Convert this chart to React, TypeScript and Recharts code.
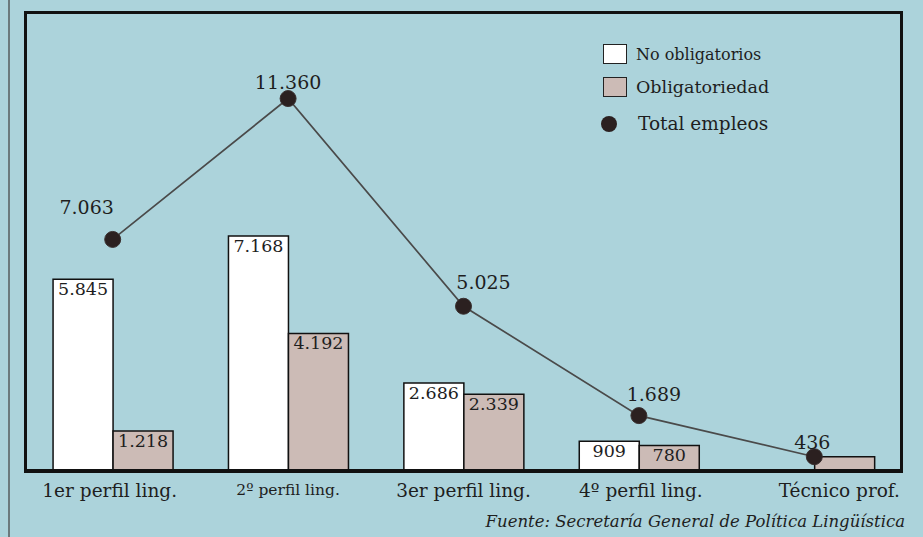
import React from 'react';
import { ComposedChart, Bar, Line, XAxis, YAxis, LabelList } from 'recharts';

const categories = ['1er perfil ling.', '2º perfil ling.', '3er perfil ling.', '4º perfil ling.', 'Técnico prof.'];
const noObligatorios = [5845, 7168, 2686, 909, null];
const obligatoriedad = [1218, 4192, 2339, 780, 436];
const totalEmpleos = [7063, 11360, 5025, 1689, 436];

const data = categories.map((name, i) => ({
  name,
  noObl: noObligatorios[i],
  obl: obligatoriedad[i],
  total: totalEmpleos[i],
}));

const FONT = '"DejaVu Serif", serif';
const BG = '#acd3db';
const BROWN = '#ccbbb6';

// where each total label sits relative to its dot
const totalLabelOffset = [
  { dx: -26, dy: -32 },
  { dx: 0, dy: -17 },
  { dx: 20, dy: -24 },
  { dx: 15, dy: -22 },
  { dx: -2, dy: -15 },
];
const tickShift = [-3, 0, 0, 2, 25];

const fmt = (v: number) => v.toLocaleString('de-DE');

const TotalLabel = (props: any) => {
  const { x, y, value, index } = props;
  const o = totalLabelOffset[index] || { dx: 0, dy: -15 };
  return (
    <text x={x + o.dx} y={y + o.dy} textAnchor="middle" dominantBaseline="central"
      fontFamily={FONT} fontSize={19} fill="#1e1e1e">
      {fmt(value)}
    </text>
  );
};

const BarLabel = (props: any) => {
  const { x, y, width, value, index } = props;
  if (value == null || index === 4) return null;
  return (
    <text x={x + width / 2} y={y + 3} textAnchor="middle" dominantBaseline="hanging"
      fontFamily={FONT} fontSize={17.5} fill="#1e1e1e">
      {fmt(value)}
    </text>
  );
};

const CatTick = (props: any) => {
  const { x, y, payload, index } = props;
  const small = index === 1;
  return (
    <text x={x + (tickShift[index] || 0)} y={y + 11} textAnchor="middle" dominantBaseline="central"
      fontFamily={FONT} fontSize={small ? 15.5 : 18.5} fill="#1e1e1e">
      {payload.value}
    </text>
  );
};

const legendItems = [
  { label: 'No obligatorios', kind: 'box', color: '#ffffff', top: 44, size: 16 },
  { label: 'Obligatoriedad', kind: 'box', color: BROWN, top: 77, size: 17.5 },
  { label: 'Total empleos', kind: 'dot', color: '#2b2020', top: 113, size: 18.5 },
];

export default function App() {
  return (
    <div style={{ position: 'absolute', left: 0, top: 0, width: 923, height: 537, background: BG, overflow: 'hidden' }}>
      <div style={{ position: 'absolute', left: 8, top: 0, width: 2, height: 537, background: '#6b7a7d' }} />
      <ComposedChart width={923} height={537} data={data}
        margin={{ top: 12, right: 21, left: 25, bottom: 36 }}
        barGap={0} barCategoryGap="16%">
        <XAxis dataKey="name" height={30} axisLine={{ stroke: '#111', strokeWidth: 4 }}
          tickLine={false} tick={<CatTick />} interval={0} />
        <YAxis hide domain={[0, 14000]} />
        <Bar dataKey="noObl" fill="#ffffff" stroke="#111" strokeWidth={1.5} isAnimationActive={false}>
          <LabelList dataKey="noObl" content={<BarLabel />} />
        </Bar>
        <Bar dataKey="obl" fill={BROWN} stroke="#111" strokeWidth={1.5} isAnimationActive={false}>
          <LabelList dataKey="obl" content={<BarLabel />} />
        </Bar>
        <Line dataKey="total" stroke="#4a4a4a" strokeWidth={1.7} isAnimationActive={false}
          dot={{ r: 8, fill: '#2b2020', stroke: '#3a3030', strokeWidth: 1 }}>
          <LabelList dataKey="total" content={<TotalLabel />} />
        </Line>
      </ComposedChart>
      <div style={{ position: 'absolute', left: 24, top: 11, width: 879, height: 462, border: '3px solid #111', boxSizing: 'border-box', pointerEvents: 'none' }} />
      {legendItems.map((it) => (
        <div key={it.label} style={{ position: 'absolute', left: 603, top: it.top, display: 'flex', alignItems: 'center', fontFamily: FONT, fontSize: it.size, color: '#1e1e1e' }}>
          {it.kind === 'box' ? (
            <span style={{ display: 'inline-block', width: 22, height: 18, background: it.color, border: '1.5px solid #222', marginRight: 9 }} />
          ) : (
            <span style={{ display: 'inline-block', width: 16, height: 16, borderRadius: 8, background: it.color, marginLeft: -2, marginRight: 21 }} />
          )}
          <span>{it.label}</span>
        </div>
      ))}
      <div style={{ position: 'absolute', right: 18, top: 512, fontFamily: FONT, fontStyle: 'italic', fontSize: 16.5, color: '#1e1e1e' }}>
        Fuente: Secretaría General de Política Lingüística
      </div>
    </div>
  );
}
